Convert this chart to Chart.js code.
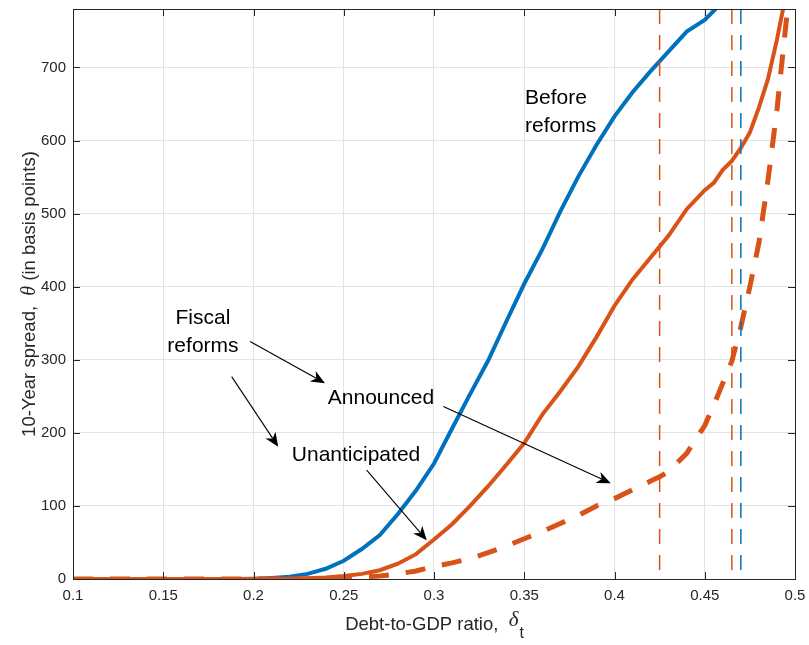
<!DOCTYPE html>
<html>
<head>
<meta charset="utf-8">
<script src="https://cdn.jsdelivr.net/npm/chart.js@4/dist/chart.umd.min.js"></script>
<style>
html,body{margin:0;padding:0;background:#fff;}
#wrap{width:809px;height:645px;}
</style>
</head>
<body>
<div id="wrap"><canvas id="c" width="809" height="645"></canvas></div>
<script>
// ---- data ----
const beforeX = [0.10,0.15,0.19,0.20,0.21,0.22,0.23,0.24,0.25,0.26,0.27,0.28,0.29,0.30,0.31,0.32,0.33,0.34,0.35,0.36,0.37,0.38,0.39,0.40,0.41,0.42,0.43,0.44,0.45,0.46];
const beforeY = [0,0,0,0.5,1.5,3,7,14,25,41,60,89,121,158,206,253,299,352,404,451,503,551,594,633,666,695,722,749,765,790];

const unantX = [0.10,0.20,0.22,0.23,0.24,0.25,0.26,0.27,0.28,0.29,0.30,0.31,0.32,0.33,0.34,0.35,0.36,0.37,0.38,0.39,0.40,0.41,0.42,0.43,0.44,0.45,0.455,0.46,0.465,0.47,0.475,0.48,0.485,0.49,0.495];
const unantY = [0,0,0.5,1,2,4,7,12,21,34,54,75,100,127,156,186,225,257,291,331,374,410,440,470,506,532,542,560,572,590,611,645,684,738,800];

const annX = [0.10,0.23,0.24,0.25,0.26,0.27,0.28,0.29,0.30,0.31,0.32,0.33,0.34,0.35,0.36,0.37,0.38,0.39,0.40,0.41,0.42,0.425,0.43,0.44,0.45,0.455,0.46,0.465,0.47,0.475,0.48,0.485,0.49,0.495,0.497];
const annY = [0,0,0.5,1,3,4,7,11,17,22,28,36,45,55,65,76,87,100,110,122,134,140,147,172,210,238,268,298,345,400,460,545,642,760,800];

const vlineX = [0.425, 0.465, 0.47];
const vlineColor = ['#D95319', '#D95319', '#0072BD'];

const xTickMin = 0.1, xTickMax = 0.5, xTickStep = 0.05;
const yTickMin = 0, yTickMax = 780, yTickStep = 100;

const labelText = ['Fiscal', 'reforms', 'Announced', 'Unanticipated', 'Before', 'reforms'];
const labelX = [0.172, 0.172, 0.2706, 0.2568, 0.3504, 0.3504];
const labelY = [357, 318, 247, 170, 658, 620];
const labelAlign = ['center', 'center', 'center', 'center', 'left', 'left'];

const arrowFromX = [0.1981, 0.1879, 0.3052, 0.2627];
const arrowFromY = [325, 277, 236, 149];
const arrowToX = [0.2396, 0.2137, 0.3979, 0.2960];
const arrowToY = [268, 181, 131, 53];

const xTitle = 'Debt-to-GDP ratio,  ';
const yTitleParts = ['10-Year spread,  ', 'θ', ' (in basis points)'];

// ---- helpers ----
const pts = (xs, ys) => xs.map((x, i) => ({x: x, y: ys[i]}));
const BLUE = '#0072BD', ORANGE = '#D95319', AX = '#262626';
const SANS = '"Liberation Sans", Arial, Helvetica, sans-serif';
const SERIF = '"Liberation Serif", "Times New Roman", serif';

const datasets = [];
vlineX.forEach((vx, i) => {
  datasets.push({
    data: [{x: vx, y: yTickMax}, {x: vx, y: yTickMin}],
    borderColor: vlineColor[i], borderWidth: 1.5, borderDash: [15, 11],
    pointRadius: 0, fill: false, order: 1
  });
});
datasets.push({data: pts(annX, annY), borderColor: ORANGE, borderWidth: 5, borderDash: [20, 17], borderCapStyle: 'butt', pointRadius: 0, fill: false, order: 2});
datasets.push({data: pts(unantX, unantY), borderColor: ORANGE, borderWidth: 4, pointRadius: 0, fill: false, order: 3});
datasets.push({data: pts(beforeX, beforeY), borderColor: BLUE, borderWidth: 4, pointRadius: 0, fill: false, order: 4});

function arrow(ctx, x1, y1, x2, y2) {
  const ang = Math.atan2(y2 - y1, x2 - x1);
  const L = 14, W = 6, N = 4;
  ctx.beginPath();
  ctx.moveTo(x1, y1);
  ctx.lineTo(x2 - Math.cos(ang) * (L - N), y2 - Math.sin(ang) * (L - N));
  ctx.stroke();
  const c = Math.cos(ang), s = Math.sin(ang);
  const bx = x2 - c * L, by = y2 - s * L;
  ctx.beginPath();
  ctx.moveTo(x2, y2);
  ctx.lineTo(bx - s * W, by + c * W);
  ctx.lineTo(x2 - c * (L - N), y2 - s * (L - N));
  ctx.lineTo(bx + s * W, by - c * W);
  ctx.closePath();
  ctx.fill();
}

const overlay = {
  id: 'overlay',
  afterDatasetsDraw(chart) {
    const ctx = chart.ctx, xs = chart.scales.x, ys = chart.scales.y;
    ctx.save();
    ctx.strokeStyle = '#000'; ctx.fillStyle = '#000'; ctx.lineWidth = 1.1;
    for (let i = 0; i < arrowFromX.length; i++) {
      arrow(ctx, xs.getPixelForValue(arrowFromX[i]), ys.getPixelForValue(arrowFromY[i]),
                 xs.getPixelForValue(arrowToX[i]), ys.getPixelForValue(arrowToY[i]));
    }
    ctx.font = '21px ' + SANS;
    ctx.textBaseline = 'middle';
    for (let i = 0; i < labelText.length; i++) {
      ctx.textAlign = labelAlign[i];
      ctx.fillText(labelText[i], xs.getPixelForValue(labelX[i]), ys.getPixelForValue(labelY[i]));
    }
    ctx.restore();
  },
  afterDraw(chart) {
    const ctx = chart.ctx, a = chart.chartArea, xs = chart.scales.x, ys = chart.scales.y;
    ctx.save();
    ctx.strokeStyle = AX; ctx.lineWidth = 1;
    ctx.strokeRect(Math.round(a.left) + 0.5, Math.round(a.top) + 0.5, Math.round(a.right - a.left), Math.round(a.bottom - a.top));
    ctx.beginPath();
    xs.ticks.forEach(t => {
      const px = Math.round(xs.getPixelForValue(t.value)) + 0.5;
      ctx.moveTo(px, a.bottom); ctx.lineTo(px, a.bottom - 7);
      ctx.moveTo(px, a.top); ctx.lineTo(px, a.top + 7);
    });
    ys.ticks.forEach(t => {
      const py = Math.round(ys.getPixelForValue(t.value)) + 0.5;
      ctx.moveTo(a.left, py); ctx.lineTo(a.left + 7, py);
      ctx.moveTo(a.right, py); ctx.lineTo(a.right - 7, py);
    });
    ctx.stroke();

    // x title
    ctx.fillStyle = AX; ctx.textBaseline = 'alphabetic'; ctx.textAlign = 'left';
    const f1 = '18.5px ' + SANS, f2 = 'italic 21px ' + SERIF, f3 = '16px ' + SANS;
    ctx.font = f1; const w1 = ctx.measureText(xTitle).width;
    ctx.font = f2; const w2 = ctx.measureText('δ').width;
    ctx.font = f3; const w3 = ctx.measureText('t').width;
    const cx = (a.left + a.right) / 2;
    let sx = cx - (w1 + w2 + w3) / 2;
    const base = 630;
    ctx.font = f1; ctx.fillText(xTitle, sx, base); sx += w1;
    ctx.font = f2; ctx.fillText('δ', sx, base - 4); sx += w2 + 1;
    ctx.font = f3; ctx.fillText('t', sx, base + 8);

    // y title
    ctx.save();
    const cy = (a.top + a.bottom) / 2;
    ctx.translate(35, cy);
    ctx.rotate(-Math.PI / 2);
    const fy = ['18.5px ' + SANS, 'italic 20px ' + SERIF, '18.5px ' + SANS];
    let tw = 0; const ws = [];
    yTitleParts.forEach((p, i) => { ctx.font = fy[i]; ws.push(ctx.measureText(p).width); tw += ws[i]; });
    let px = -tw / 2;
    yTitleParts.forEach((p, i) => { ctx.font = fy[i]; ctx.fillText(p, px, 0); px += ws[i]; });
    ctx.restore();
    ctx.restore();
  }
};

new Chart(document.getElementById('c'), {
  type: 'line',
  data: {datasets: datasets},
  options: {
    responsive: false,
    animation: false,
    events: [],
    layout: {padding: {top: 9, right: 14, left: 0, bottom: 0}},
    plugins: {legend: {display: false}, tooltip: {enabled: false}},
    scales: {
      x: {
        type: 'linear', min: xTickMin, max: xTickMax,
        afterFit: s => { s.height = 66; s.paddingLeft = 0; s.paddingRight = 0; },
        grid: {color: '#e3e3e3', lineWidth: 1, drawTicks: false},
        border: {display: false},
        ticks: {
          stepSize: xTickStep, padding: 8, color: AX, maxRotation: 0, autoSkip: false,
          font: {family: SANS, size: 15},
          callback: v => String(parseFloat(Number(v).toFixed(2)))
        }
      },
      y: {
        type: 'linear', min: yTickMin, max: yTickMax,
        afterFit: s => { s.width = 73; s.paddingTop = 0; s.paddingBottom = 0; },
        grid: {color: '#e3e3e3', lineWidth: 1, drawTicks: false},
        border: {display: false},
        ticks: {
          stepSize: yTickStep, includeBounds: false, padding: 7, color: AX,
          font: {family: SANS, size: 15}
        }
      }
    }
  },
  plugins: [overlay]
});
</script>
</body>
</html>
